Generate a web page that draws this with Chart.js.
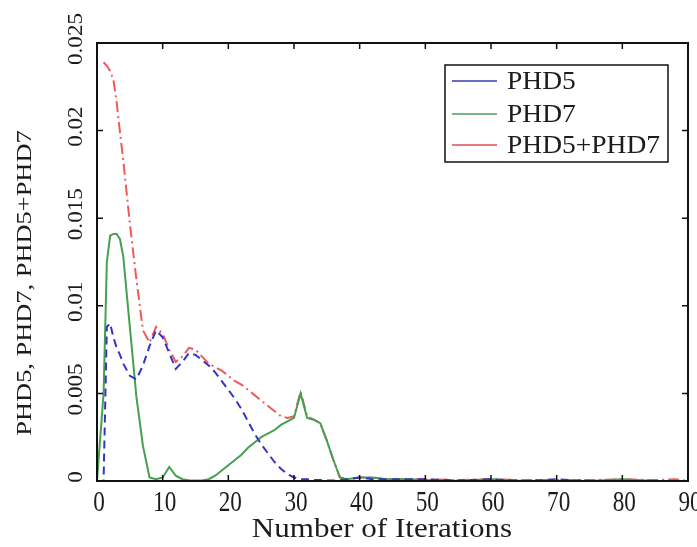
<!DOCTYPE html>
<html>
<head>
<meta charset="utf-8">
<script src="https://cdn.jsdelivr.net/npm/chart.js@4/dist/chart.umd.min.js"></script>
<style>
  html, body { margin: 0; padding: 0; background: #fff; }
  canvas { display: block; }
</style>
</head>
<body>
<canvas id="c" width="697" height="547"></canvas>
<script>
// ---- data ----
const xValues = [0, 1, 1.5, 2, 2.5, 3, 3.5, 4, 5, 6, 7, 8, 9, 10, 11, 12, 13, 14, 15, 16, 17, 18, 19, 20,
  21, 22, 23, 24, 25, 26, 27, 28, 29, 30, 31, 32, 33, 34, 35, 36, 37, 38, 40, 42, 44, 46, 48, 50,
  55, 60, 65, 70, 75, 80, 85, 88, 90];

const phd5 = [0, 0, 0.0088, 0.0090, 0.0082, 0.0076, 0.0072, 0.0067, 0.0060, 0.0058, 0.0066, 0.0077, 0.0086, 0.0082,
  0.0073, 0.0064, 0.0068, 0.0073, 0.0072, 0.0069, 0.0066, 0.0062, 0.0057, 0.0052,
  0.0047, 0.0041, 0.0034, 0.0027, 0.0021, 0.0016, 0.0011, 0.0007, 0.0004, 0.0002, 0.0001, 0.0001, 0.00005, 0.00005, 0.00003, 0.00003, 0.00005, 0.0001,
  0.0002, 0.0001, 0.0001, 0.0001, 0.0001, 0.0001,
  0.00003, 0.0001, 0, 0.0001, 0, 0, 0, 0, 0];

const phd7 = [0, 0.005, 0.0125, 0.0140, 0.0141, 0.0141, 0.0138, 0.0128, 0.0088, 0.0048, 0.0020, 0.0002, 0.0001, 0.0002,
  0.0008, 0.0003, 0.0001, 0.00005, 0.00003, 0.00003, 0.0001, 0.0003, 0.0006, 0.0009,
  0.0012, 0.0015, 0.0019, 0.0022, 0.0025, 0.0027, 0.0029, 0.0032, 0.0034, 0.0036, 0.0050, 0.0036, 0.0035, 0.0033, 0.0023, 0.0012, 0.0002, 0.0001,
  0.0002, 0.0002, 0.0001, 0.0001, 0.0001, 0.00005,
  0, 0.0001, 0, 0, 0, 0.0001, 0, 0, 0];

const phd5plus7 = [null, 0.0239, 0.0237, 0.0234, 0.0229, 0.0216, 0.0199, 0.0183, 0.0147, 0.0115, 0.0086, 0.0079, 0.0088, 0.0084,
  0.0075, 0.0068, 0.0071, 0.0076, 0.0075, 0.0071, 0.0067, 0.0065, 0.0063, 0.0060,
  0.0057, 0.0055, 0.0052, 0.0049, 0.0046, 0.0043, 0.0040, 0.0037, 0.0036, 0.0037, 0.0051, 0.0037, 0.0035, 0.0033, 0.0023, 0.0012, 0.0002, 0.0001,
  0.0002, 0.0002, 0.0001, 0.0001, 0.0001, 0.0001,
  0.00005, 0.0001, 0.00005, 0.00005, 0.00005, 0.0001, 0.00005, 0.0001, 0];

const seriesNames = ['PHD5', 'PHD7', 'PHD5+PHD7'];
const xTicks = [0, 10, 20, 30, 40, 50, 60, 70, 80, 90];
const xTickLabels = ['0', '10', '20', '30', '40', '50', '60', '70', '80', '90'];
const yTicks = [0, 0.005, 0.01, 0.015, 0.02, 0.025];
const yTickLabels = ['0', '0.005', '0.01', '0.015', '0.02', '0.025'];
const xTitle = 'Number of Iterations';
const yTitle = 'PHD5, PHD7, PHD5+PHD7';

// ---- styles ----
const colors = ['#3535c0', '#45a050', '#f05a5a'];
const legendColors = ['#3a3ab0', '#4a9a6a', '#e04a55'];
const dashes = [[8, 5], [], [11, 4, 2, 4]];
const textColor = '#1c1c1c';
const serif = '"Liberation Serif", "DejaVu Serif", serif';

function pts(arr) { return xValues.map((x, i) => ({ x: x, y: arr[i] })); }

function drawText(ctx, text, x, y, o) {
  ctx.save();
  ctx.translate(x, y);
  if (o.rotate) ctx.rotate(-Math.PI / 2);
  ctx.scale(o.sx || 1, 1);
  ctx.font = o.font;
  ctx.fillStyle = textColor;
  ctx.textAlign = o.align || 'center';
  ctx.textBaseline = o.baseline || 'alphabetic';
  ctx.fillText(text, 0, 0);
  ctx.restore();
}

const decor = {
  id: 'decor',
  afterDraw(chart) {
    const ctx = chart.ctx;
    const a = chart.chartArea;
    const xs = chart.scales.x, ys = chart.scales.y;
    ctx.save();
    // frame
    ctx.strokeStyle = '#111';
    ctx.lineWidth = 2;
    ctx.strokeRect(a.left, a.top, a.right - a.left, a.bottom - a.top);
    // inward ticks
    ctx.lineWidth = 1.5;
    ctx.beginPath();
    xTicks.forEach(v => {
      const p = xs.getPixelForValue(v);
      ctx.moveTo(p, a.bottom); ctx.lineTo(p, a.bottom - 6);
      ctx.moveTo(p, a.top); ctx.lineTo(p, a.top + 6);
    });
    yTicks.forEach(v => {
      const p = ys.getPixelForValue(v);
      ctx.moveTo(a.left, p); ctx.lineTo(a.left + 6, p);
      ctx.moveTo(a.right, p); ctx.lineTo(a.right - 6, p);
    });
    ctx.stroke();
    // tick labels
    xTicks.forEach((v, i) => {
      drawText(ctx, xTickLabels[i], xs.getPixelForValue(v) + 2, 511, { font: '29px ' + serif, sx: 0.8 });
    });
    yTicks.forEach((v, i) => {
      drawText(ctx, yTickLabels[i], 82, ys.getPixelForValue(v) - 4, { font: '22px ' + serif, sx: 1.05, rotate: true });
    });
    // axis titles
    drawText(ctx, xTitle, 382, 537, { font: '27px ' + serif, sx: 1.15 });
    drawText(ctx, yTitle, 31, 283, { font: '22px ' + serif, sx: 1.2, rotate: true });
    // legend
    ctx.fillStyle = '#fff';
    ctx.fillRect(445, 65, 223, 97);
    ctx.strokeStyle = '#111';
    ctx.lineWidth = 1.5;
    ctx.strokeRect(445, 65, 223, 97);
    const ly = [81, 114, 145];
    chart.data.datasets.forEach((ds, i) => {
      ctx.strokeStyle = legendColors[i];
      ctx.lineWidth = 1.5;
      ctx.setLineDash([]);
      ctx.beginPath();
      ctx.moveTo(452, ly[i]); ctx.lineTo(497, ly[i]);
      ctx.stroke();
      drawText(ctx, ds.label, 507, ly[i] + 8, { font: '25px ' + serif, sx: 1.1, align: 'left' });
    });
    ctx.restore();
  }
};

new Chart(document.getElementById('c'), {
  type: 'line',
  data: {
    datasets: [phd5, phd7, phd5plus7].map((arr, i) => ({
      label: seriesNames[i],
      data: pts(arr),
      borderColor: colors[i],
      borderWidth: 2,
      borderDash: dashes[i],
      pointRadius: 0,
      tension: 0,
      fill: false,
      spanGaps: false
    }))
  },
  options: {
    responsive: false,
    animation: false,
    devicePixelRatio: 1,
    layout: { padding: { left: 97, right: 9, top: 43, bottom: 66 } },
    plugins: { legend: { display: false }, tooltip: { enabled: false } },
    scales: {
      x: { type: 'linear', min: 0, max: 90, display: false },
      y: { type: 'linear', min: 0, max: 0.025, display: false }
    }
  },
  plugins: [decor]
});
</script>
</body>
</html>
